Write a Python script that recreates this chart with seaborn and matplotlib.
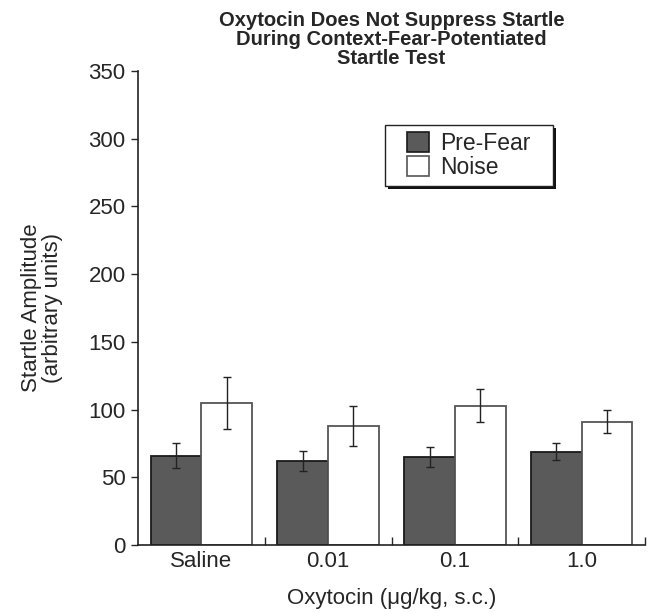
import pandas as pd
import matplotlib.pyplot as plt
import seaborn as sns
from matplotlib.ticker import FixedLocator
from matplotlib.patches import Rectangle

# data
doses = ["Saline", "0.01", "0.1", "1.0"]
pre_fear = [66, 62, 65, 69]
pre_fear_err = [9, 7.5, 7.5, 6]
noise = [105, 88, 103, 91]
noise_err = [19, 15, 12, 8.5]

df = pd.DataFrame({
    "Dose": doses * 2,
    "Condition": ["Pre-Fear"] * 4 + ["Noise"] * 4,
    "Amplitude": pre_fear + noise,
})
errs = [pre_fear_err, noise_err]

sns.set_style("ticks")
plt.rcParams["font.family"] = ["Liberation Sans", "DejaVu Sans"]

fig = plt.figure(figsize=(6.6, 6.13), dpi=100)
ax = fig.add_axes([138 / 660, 1 - 545 / 613, 507 / 660, 474 / 613])

sns.barplot(data=df, x="Dose", y="Amplitude", hue="Condition",
            palette={"Pre-Fear": "#5a5a5a", "Noise": "white"},
            errorbar=None, width=0.8, saturation=1, ax=ax)

edge = ["#1a1a1a", "#555555"]
bar_conts = list(ax.containers)
for k, cont in enumerate(bar_conts):
    xs = []
    hs = []
    for p in cont.patches:
        p.set_edgecolor(edge[k])
        p.set_linewidth(1.3)
        xs.append(p.get_x() + p.get_width() / 2)
        hs.append(p.get_height())
    ax.errorbar(xs, hs, yerr=errs[k], fmt="none", ecolor="#222222",
                elinewidth=1, capsize=3, capthick=1, zorder=5)

ax.set_xlim(-0.5, 3.5)
ax.set_ylim(0, 350)
ax.set_yticks(range(0, 351, 50))
ax.tick_params(axis="y", direction="out", length=5, width=1, labelsize=16, pad=4)
ax.tick_params(axis="x", which="major", length=0, labelsize=16, pad=4)
ax.xaxis.set_minor_locator(FixedLocator([0.5, 1.5, 2.5, 3.5]))
ax.tick_params(axis="x", which="minor", direction="in", length=6, width=1)
sns.despine(ax=ax)
for s in ["left", "bottom"]:
    ax.spines[s].set_linewidth(1.2)
    ax.spines[s].set_color("#222222")

ax.set_xlabel("Oxytocin (\u03bcg/kg, s.c.)", fontsize=16, labelpad=12)
ax.set_ylabel("Startle Amplitude\n(arbitrary units)", fontsize=16, labelpad=18,
              linespacing=1.0)

# legend box with a hard drop shadow, drawn by hand
bx, by, bw, bh = 0.487, 0.757, 0.331, 0.129
ax.add_patch(Rectangle((bx + 0.006, by - 0.0065), bw, bh, transform=ax.transAxes,
                       facecolor="#111111", edgecolor="none", zorder=6))
ax.add_patch(Rectangle((bx, by), bw, bh, transform=ax.transAxes,
                       facecolor="white", edgecolor="#222222", linewidth=1, zorder=7))

leg = ax.legend(loc="center", bbox_to_anchor=(bx + bw / 2, by + bh / 2),
                fontsize=16.5, frameon=False,
                handlelength=0.95, handleheight=0.95,
                handletextpad=0.5, borderpad=0, labelspacing=0.05,
                borderaxespad=0)
leg.set_zorder(8)
for k, h in enumerate(leg.legend_handles):
    h.set_edgecolor(edge[k])
    h.set_linewidth(1.2)

ax.set_title("Oxytocin Does Not Suppress Startle\nDuring Context-Fear-Potentiated\nStartle Test",
             fontsize=14.5, fontweight="bold", linespacing=1.0, pad=5)

fig.savefig("out.png", dpi=100)
